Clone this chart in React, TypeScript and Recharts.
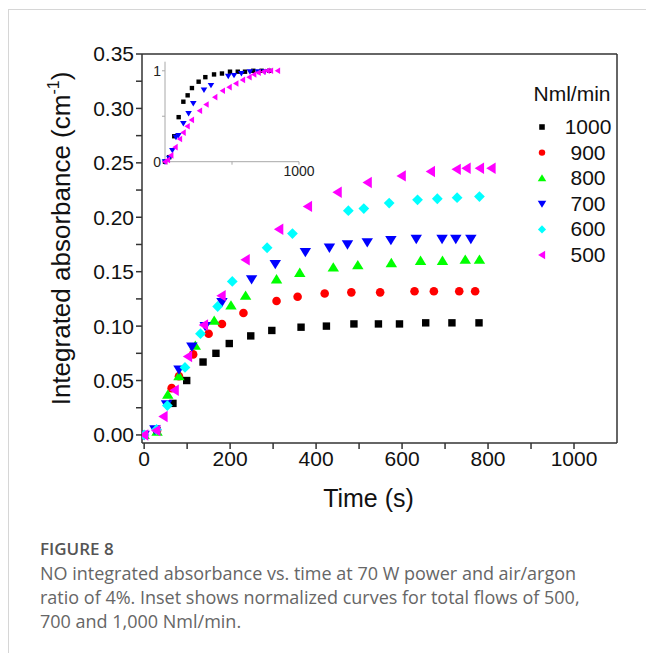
import React from "react";
import { ScatterChart, Scatter, XAxis, YAxis, ReferenceLine } from "recharts";

const FONT = "'Liberation Sans', Arial, Helvetica, sans-serif";

// main panel: time (s) and integrated absorbance (cm-1) per total flow
const t1000 = [0, 30, 67, 99, 137, 167, 198, 248, 297, 365, 424, 488, 545, 594, 655, 716, 779];
const a1000 = [0.0, 0.004, 0.029, 0.05, 0.067, 0.075, 0.084, 0.091, 0.096, 0.099, 0.1, 0.102, 0.102, 0.102, 0.103, 0.103, 0.103];

const t900 = [0, 30, 64, 81, 114, 150, 181, 231, 308, 357, 420, 482, 549, 629, 674, 733, 770];
const a900 = [0.0, 0.004, 0.043, 0.054, 0.074, 0.093, 0.102, 0.112, 0.123, 0.127, 0.13, 0.131, 0.131, 0.132, 0.132, 0.132, 0.132];

const t800 = [0, 30, 55, 81, 119, 163, 202, 236, 308, 362, 440, 497, 575, 643, 694, 747, 780];
const a800 = [0.0, 0.003, 0.037, 0.054, 0.082, 0.105, 0.119, 0.128, 0.143, 0.149, 0.154, 0.156, 0.158, 0.16, 0.16, 0.161, 0.161];

const t700 = [0, 25, 52, 81, 111, 142, 181, 250, 305, 375, 431, 473, 519, 574, 633, 693, 725, 760];
const a700 = [0.0, 0.005, 0.028, 0.06, 0.081, 0.1, 0.122, 0.143, 0.157, 0.168, 0.172, 0.175, 0.177, 0.179, 0.18, 0.18, 0.18, 0.18];

const t600 = [0, 29, 54, 95, 131, 171, 205, 286, 345, 475, 511, 570, 636, 682, 728, 780];
const a600 = [0.0, 0.005, 0.027, 0.062, 0.093, 0.118, 0.141, 0.172, 0.185, 0.206, 0.208, 0.213, 0.216, 0.217, 0.218, 0.219];

const t500 = [0, 28, 45, 71, 102, 139, 180, 236, 314, 381, 450, 520, 599, 667, 727, 750, 781, 808];
const a500 = [0.0, 0.004, 0.017, 0.041, 0.072, 0.101, 0.128, 0.161, 0.189, 0.21, 0.223, 0.232, 0.238, 0.242, 0.244, 0.245, 0.245, 0.245];

// inset: normalized curves
const it1000 = [0, 32, 69, 102, 137, 169, 201, 251, 301, 366, 425, 485, 543, 597, 659, 721, 778];
const in1000 = [0, 0.05, 0.28, 0.49, 0.66, 0.73, 0.81, 0.88, 0.93, 0.96, 0.97, 0.99, 0.99, 0.99, 1.0, 1.0, 1.0];

const it700 = [0, 32, 55, 82, 100, 137, 176, 211, 291, 343, 472, 515, 570, 634, 694, 744];
const in700 = [0, 0.04, 0.125, 0.27, 0.29, 0.42, 0.53, 0.64, 0.79, 0.84, 0.94, 0.95, 0.97, 0.99, 0.99, 0.99];

const it500 = [0, 20, 45, 77, 110, 137, 167, 199, 259, 308, 373, 430, 480, 530, 580, 629, 664, 697, 734, 764, 789, 841];
const in500 = [0, 0.02, 0.07, 0.16, 0.25, 0.32, 0.39, 0.46, 0.56, 0.63, 0.71, 0.78, 0.82, 0.86, 0.9, 0.93, 0.96, 0.98, 0.99, 1.0, 1.0, 1.0];

const xTicks = [0, 100, 200, 300, 400, 500, 600, 700, 800, 900, 1000];
const yTicks = [0, 0.025, 0.05, 0.075, 0.1, 0.125, 0.15, 0.175, 0.2, 0.225, 0.25, 0.275, 0.3, 0.325, 0.35];
const insetXTicks = [0, 500, 1000];
const insetYTicks = [0, 0.5, 1];

const flows = ["1000", "900", "800", "700", "600", "500"];

type Kind = "square" | "circle" | "up" | "down" | "diamond" | "left";

const zip = (t: number[], v: number[]) => t.map((x, i) => ({ t: x, a: v[i] }));

function glyph(kind: Kind, cx: number, cy: number, r: number, color: string) {
  switch (kind) {
    case "square":
      return <rect x={cx - r} y={cy - r} width={2 * r} height={2 * r} fill={color} />;
    case "circle":
      return <circle cx={cx} cy={cy} r={r} fill={color} />;
    case "up":
      return <polygon points={`${cx},${cy - r} ${cx + r * 1.1},${cy + r * 0.8} ${cx - r * 1.1},${cy + r * 0.8}`} fill={color} />;
    case "down":
      return <polygon points={`${cx},${cy + r} ${cx + r * 1.1},${cy - r * 0.8} ${cx - r * 1.1},${cy - r * 0.8}`} fill={color} />;
    case "diamond":
      return <polygon points={`${cx},${cy - r * 1.1} ${cx + r * 1.1},${cy} ${cx},${cy + r * 1.1} ${cx - r * 1.1},${cy}`} fill={color} />;
    case "left":
      return <polygon points={`${cx - r},${cy} ${cx + r * 0.8},${cy - r * 1.1} ${cx + r * 0.8},${cy + r * 1.1}`} fill={color} />;
  }
}

const marker = (kind: Kind, r: number, color: string) => (props: any) => {
  const { cx, cy } = props;
  if (cx == null || cy == null) return <g />;
  return glyph(kind, cx, cy, r, color);
};

const series = [
  { name: "1000", data: zip(t1000, a1000), kind: "square" as Kind, color: "#000000", r: 3.7 },
  { name: "900", data: zip(t900, a900), kind: "circle" as Kind, color: "#ff0000", r: 4.3 },
  { name: "800", data: zip(t800, a800), kind: "up" as Kind, color: "#00ff00", r: 5.2 },
  { name: "700", data: zip(t700, a700), kind: "down" as Kind, color: "#0000ff", r: 5.2 },
  { name: "600", data: zip(t600, a600), kind: "diamond" as Kind, color: "#00ffff", r: 4.9 },
  { name: "500", data: zip(t500, a500), kind: "left" as Kind, color: "#ff00ff", r: 5.2 },
];

const insetSeries = [
  { name: "1000", data: zip(it1000, in1000), kind: "square" as Kind, color: "#000000", r: 2.2 },
  { name: "700", data: zip(it700, in700), kind: "down" as Kind, color: "#0000ff", r: 3 },
  { name: "500", data: zip(it500, in500), kind: "left" as Kind, color: "#ff00ff", r: 3 },
];

const yFmt = (v: number) => (Math.round(v * 1000) % 50 === 0 ? v.toFixed(2) : "");
const xFmt = (v: number) => (v % 200 === 0 ? String(v) : "");

export default function App() {
  return (
    <div style={{ position: "absolute", left: 0, top: 0, width: 646, height: 653, background: "#fff", fontFamily: FONT }}>
      <div
        style={{
          position: "absolute",
          left: 8,
          top: 9,
          width: 638,
          height: 644,
          borderTop: "1px solid #d6d6d6",
          borderLeft: "1px solid #d6d6d6",
        }}
      />
      <div style={{ position: "absolute", left: 0, top: 0 }}>
        <ScatterChart width={646} height={513} margin={{ top: 54, right: 29, left: 0, bottom: 0 }}>
          <XAxis
            type="number"
            dataKey="t"
            domain={[-5, 1100]}
            ticks={xTicks}
            tickFormatter={xFmt}
            allowDataOverflow
            height={70}
            stroke="#333"
            strokeWidth={1.5}
            tickSize={6}
            tick={{ fill: "#111", fontSize: 21, fontFamily: FONT }}
            label={{
              content: ({ viewBox }: any) => (
                <text x={viewBox.x + viewBox.width / 2 - 11} y={viewBox.y + 64} textAnchor="middle" fontSize={25} fontFamily={FONT} fill="#111">
                  Time (s)
                </text>
              ),
            }}
          />
          <YAxis
            type="number"
            dataKey="a"
            domain={[-0.0074, 0.35]}
            ticks={yTicks}
            tickFormatter={yFmt}
            allowDataOverflow
            width={142}
            stroke="#333"
            strokeWidth={1.5}
            tickSize={6}
            tick={{ fill: "#111", fontSize: 21, fontFamily: FONT }}
            label={{
              content: ({ viewBox }: any) => {
                const cx = 70;
                const cy = viewBox.y + viewBox.height / 2 - 10;
                return (
                  <text transform={`translate(${cx},${cy}) rotate(-90)`} textAnchor="middle" fontSize={26} fontFamily={FONT} fill="#111">
                    Integrated absorbance (cm
                    <tspan dy={-11} fontSize={16}>-1</tspan>
                    <tspan dy={11}>)</tspan>
                  </text>
                );
              },
            }}
          />
          <ReferenceLine y={0.35} stroke="#333" strokeWidth={1.5} />
          <ReferenceLine x={1100} stroke="#333" strokeWidth={1.5} />
          {series.map((s) => (
            <Scatter key={s.name} name={s.name} data={s.data} shape={marker(s.kind, s.r, s.color)} isAnimationActive={false} />
          ))}
        </ScatterChart>
      </div>

      <div style={{ position: "absolute", left: 0, top: 0 }}>
        <ScatterChart width={330} height={190} margin={{ top: 61.7, right: 31, left: 0, bottom: 8.3 }}>
          <XAxis
            type="number"
            dataKey="t"
            domain={[0, 1000]}
            ticks={insetXTicks}
            tickFormatter={(v: number) => (v === 1000 ? "1000" : "")}
            height={20}
            stroke="#a8a8a8"
            tickSize={3}
            tickMargin={1}
            tick={{ fill: "#222", fontSize: 14, fontFamily: FONT }}
          />
          <YAxis
            type="number"
            dataKey="a"
            domain={[0, 1.1]}
            ticks={insetYTicks}
            tickFormatter={(v: number) => (v === 0.5 ? "" : String(v))}
            width={165}
            stroke="#a8a8a8"
            tickSize={3}
            tickMargin={1}
            tick={{ fill: "#222", fontSize: 14, fontFamily: FONT }}
          />
          {insetSeries.map((s) => (
            <Scatter key={s.name} name={s.name} data={s.data} shape={marker(s.kind, s.r, s.color)} isAnimationActive={false} />
          ))}
        </ScatterChart>
      </div>

      <svg style={{ position: "absolute", left: 0, top: 0 }} width={646} height={300}>
        <text x={572} y={101} textAnchor="middle" fontSize={21} fontFamily={FONT} fill="#111">
          Nml/min
        </text>
        {series.map((s, i) => {
          const y = 127 + i * 25.6;
          return (
            <g key={s.name}>
              {glyph(s.kind, 542, y, s.r * 0.75, s.color)}
              <text x={588} y={y + 7} textAnchor="middle" fontSize={21} fontFamily={FONT} fill="#111">
                {flows[i]}
              </text>
            </g>
          );
        })}
      </svg>

      <div
        style={{
          position: "absolute",
          left: 40,
          top: 537,
          width: 600,
          whiteSpace: "nowrap",
          fontFamily: "'Open Sans', sans-serif",
          color: "#666",
          fontSize: 18,
          lineHeight: "24px",
        }}
      >
        <div style={{ color: "#555", fontWeight: 600, fontSize: 17 }}>FIGURE 8</div>
        <div>NO integrated absorbance vs. time at 70 W power and air/argon</div>
        <div>ratio of 4%. Inset shows normalized curves for total flows of 500,</div>
        <div>700 and 1,000 Nml/min.</div>
      </div>
    </div>
  );
}
